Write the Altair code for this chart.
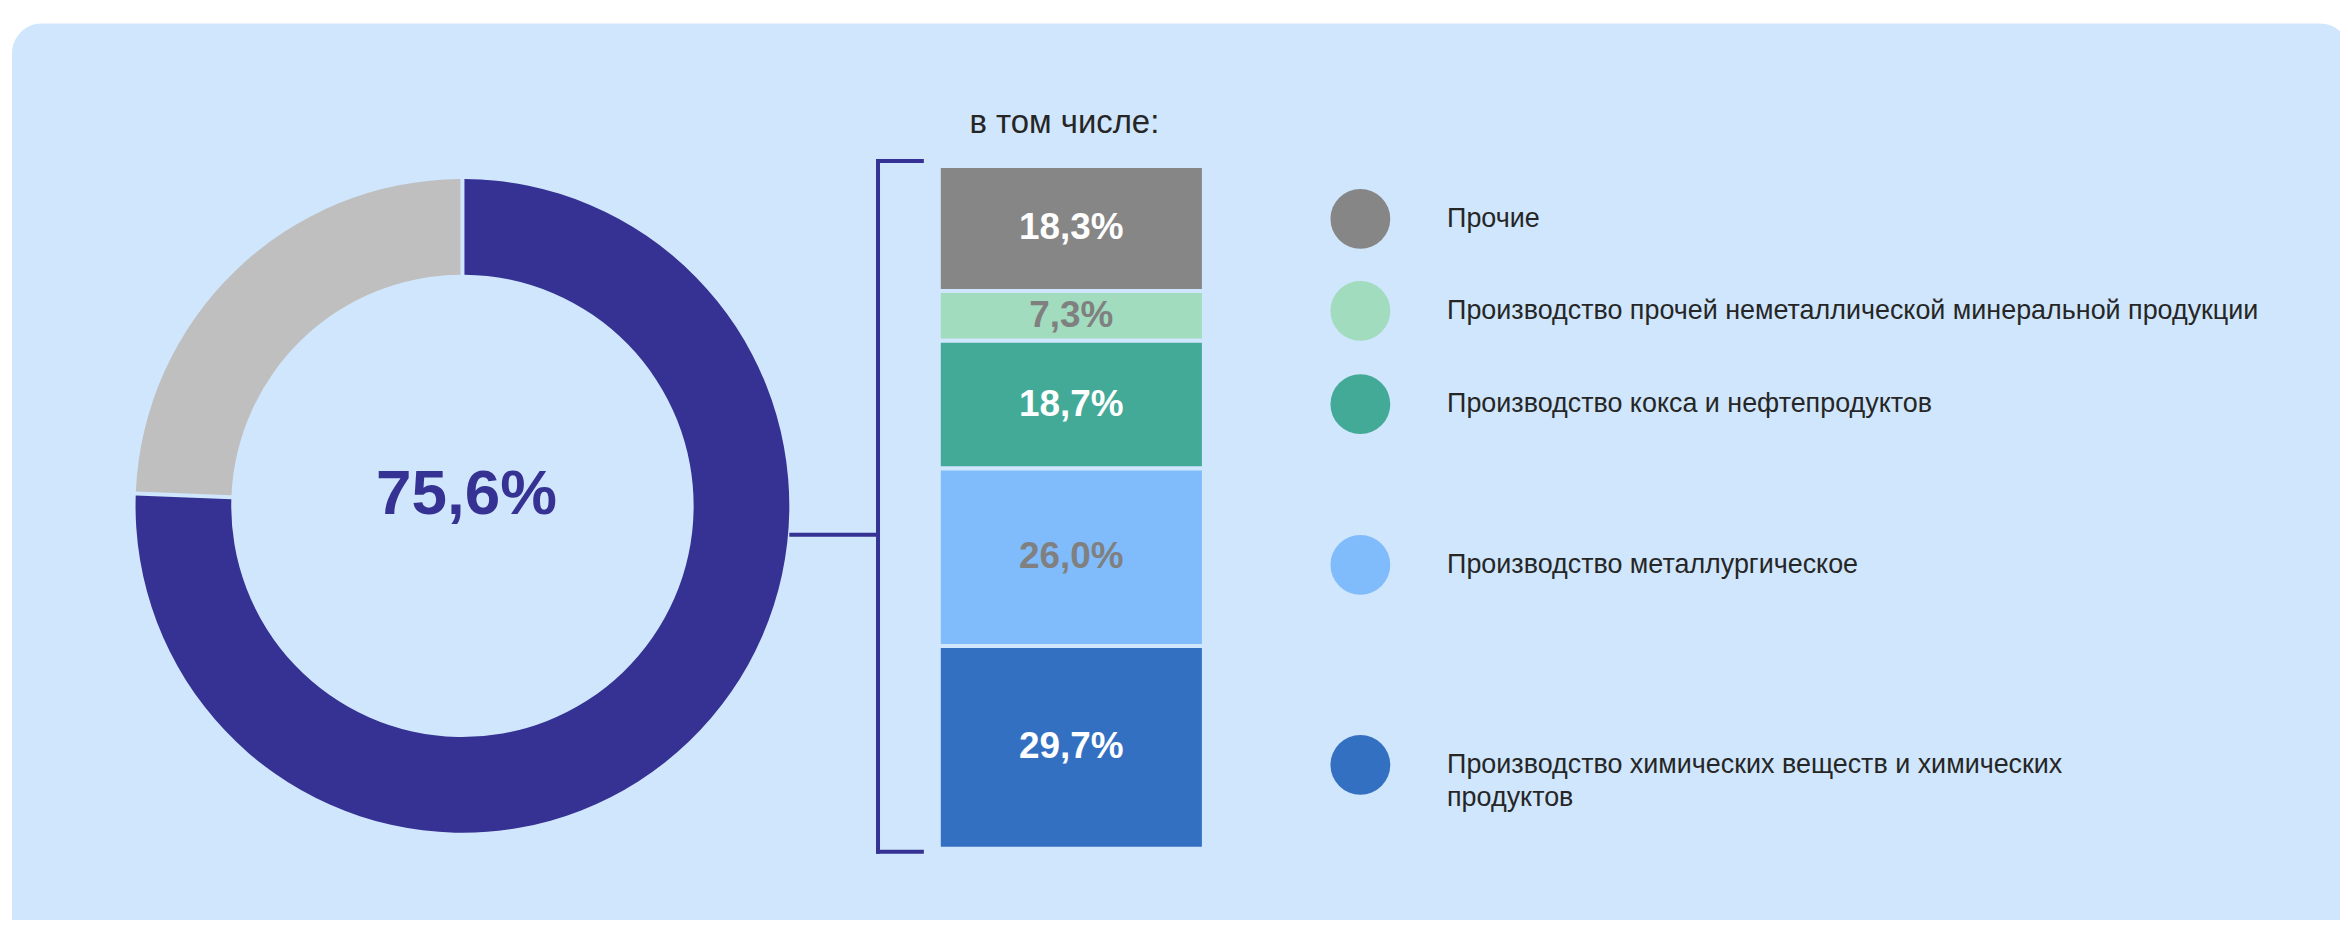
import altair as alt
import pandas as pd

# ---- data ----
donut_names = ["Выделенные отрасли", "Остальные"]
donut_values = [75.6, 24.4]
donut_colors = ["#353293", "#BFBFBF"]
donut_center_label = ["75,6%"]

seg_names = [
    "Прочие",
    "Производство прочей неметаллической минеральной продукции",
    "Производство кокса и нефтепродуктов",
    "Производство металлургическое",
    "Производство химических веществ и химических продуктов",
]
legend_texts = [
    "Прочие",
    "Производство прочей неметаллической минеральной продукции",
    "Производство кокса и нефтепродуктов",
    "Производство металлургическое",
    "Производство химических веществ и химических\nпродуктов",
]
seg_values = [18.3, 7.3, 18.7, 26.0, 29.7]
seg_colors = ["#868686", "#A1DCBF", "#44AA98", "#80BCFC", "#3470C2"]
seg_label_colors = ["#FFFFFF", "#808080", "#FFFFFF", "#808080", "#FFFFFF"]
subtitle = ["в том числе:"]

PANEL = "#D0E6FD"
NAVY = "#353293"
TEXT = "#262626"
FONT = "Liberation Sans"
W, H = 2340, 912

donut_df = pd.DataFrame({"name": donut_names, "value": donut_values,
                         "color": donut_colors, "order": list(range(len(donut_values)))})
seg_df = pd.DataFrame({"name": seg_names, "value": seg_values, "color": seg_colors,
                       "label_color": seg_label_colors, "legend": legend_texts})
seg_df["y1"] = seg_df["value"].cumsum()
seg_df["y0"] = seg_df["y1"] - seg_df["value"]
seg_df["mid"] = (seg_df["y0"] + seg_df["y1"]) / 2
seg_df["label"] = [f"{v:.1f}".replace(".", ",") + "%" for v in seg_values]

one = pd.DataFrame({"k": [0]})

panel = alt.Chart(one).mark_rect(color=PANEL, cornerRadius=30).encode(
    x=alt.value(4), x2=alt.value(2350), y=alt.value(14), y2=alt.value(H + 60)
)

donut = alt.Chart(donut_df).mark_arc(radius=328, radius2=232, padAngle=0.01).encode(
    theta=alt.Theta("value:Q", stack=True),
    order=alt.Order("order:Q"),
    color=alt.Color("color:N", scale=None),
    x=alt.value(456), y=alt.value(498),
)

center = alt.Chart(pd.DataFrame({"t": donut_center_label})).mark_text(
    font=FONT, fontSize=64, fontWeight="bold", color=NAVY, align="center", baseline="alphabetic"
).encode(x=alt.value(460), y=alt.value(506), text="t:N")

connector = alt.Chart(one).mark_rule(color=NAVY, strokeWidth=4).encode(
    x=alt.value(784), x2=alt.value(873), y=alt.value(527))
bracket_v = alt.Chart(one).mark_rule(color=NAVY, strokeWidth=4, strokeCap="square").encode(
    x=alt.value(873), y=alt.value(152), y2=alt.value(845))
bracket_t = alt.Chart(one).mark_rule(color=NAVY, strokeWidth=4, strokeCap="square").encode(
    x=alt.value(873), x2=alt.value(917), y=alt.value(152))
bracket_b = alt.Chart(one).mark_rule(color=NAVY, strokeWidth=4, strokeCap="square").encode(
    x=alt.value(873), x2=alt.value(917), y=alt.value(845))

yscale = alt.Scale(domain=[0, 100], range=[157, 842])
bars = alt.Chart(seg_df).mark_rect(stroke=PANEL, strokeWidth=4).encode(
    x=alt.value(934), x2=alt.value(1200),
    y=alt.Y("y0:Q", scale=yscale, axis=None), y2="y1:Q",
    color=alt.Color("color:N", scale=None),
)
bar_labels = alt.Chart(seg_df).mark_text(
    font=FONT, fontSize=37, fontWeight="bold", align="center", baseline="middle"
).encode(
    x=alt.value(1067),
    y=alt.Y("mid:Q", scale=yscale, axis=None),
    text="label:N",
    color=alt.Color("label_color:N", scale=None),
)

sub = alt.Chart(pd.DataFrame({"t": subtitle})).mark_text(
    font=FONT, fontSize=33, color=TEXT, align="center", baseline="alphabetic"
).encode(x=alt.value(1060), y=alt.value(124), text="t:N")

lscale = alt.Scale(domain=[0, 100], range=[144, 865])
legend_pts = alt.Chart(seg_df).mark_circle(size=3600, opacity=1).encode(
    x=alt.value(1357),
    y=alt.Y("mid:Q", scale=lscale, axis=None),
    color=alt.Color("color:N", scale=None),
)
legend_txt = alt.Chart(seg_df).mark_text(
    font=FONT, fontSize=27, color=TEXT, align="left", baseline="middle",
    lineBreak="\n", lineHeight=33
).encode(
    x=alt.value(1444),
    y=alt.Y("mid:Q", scale=lscale, axis=None),
    text="legend:N",
)

chart = alt.layer(
    panel, donut, center, connector, bracket_v, bracket_t, bracket_b,
    bars, bar_labels, sub, legend_pts, legend_txt
).resolve_scale(y="independent").properties(
    width=W, height=H, padding=0, autosize="none", background="white"
).configure_view(strokeWidth=0)

chart.save("out.html", embed_options={"renderer": "svg", "actions": False})
